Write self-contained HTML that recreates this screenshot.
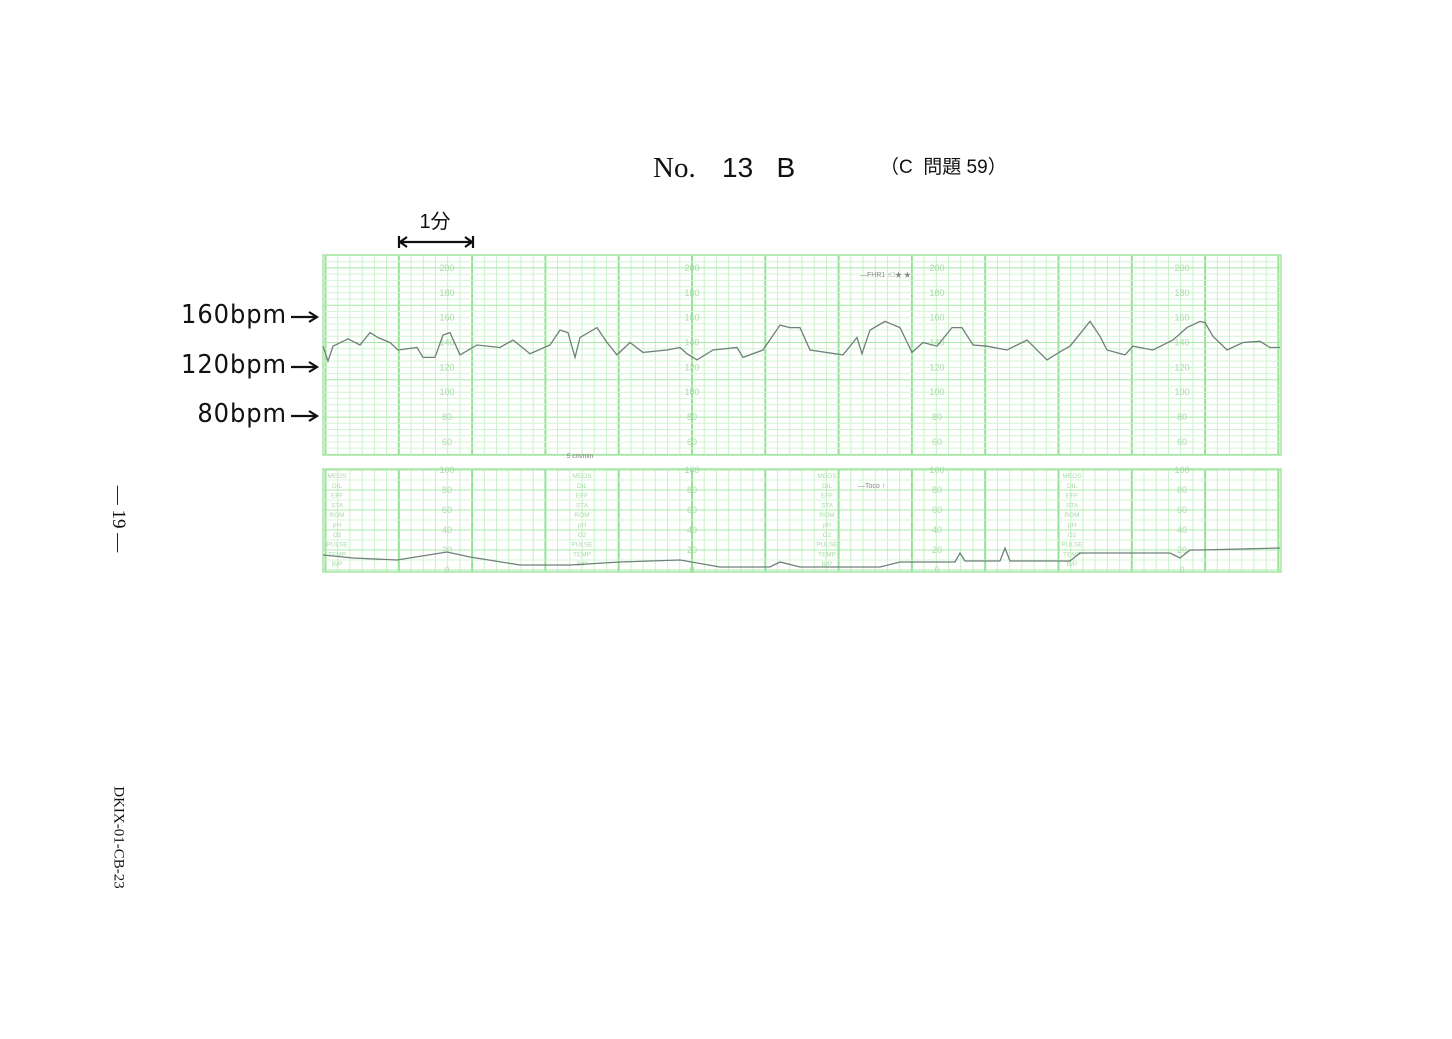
<!DOCTYPE html>
<html><head><meta charset="utf-8">
<style>
body{margin:0;width:1452px;height:1039px;background:#fff;overflow:hidden;position:relative;font-family:"Liberation Sans","Noto Sans CJK JP",sans-serif}
.t{position:absolute;white-space:nowrap;color:#111}
</style></head><body>
<div class="t" style="left:653px;top:152px;font-family:'Liberation Serif',serif;font-size:29px">No.</div>
<div class="t" style="left:722px;top:152px;font-size:28px">13&nbsp;&nbsp;&nbsp;B</div>
<div class="t" style="left:880px;top:152px;font-size:19px;font-family:'Liberation Sans','Noto Sans CJK JP',sans-serif">（C&nbsp;&nbsp;問題 59）</div>
<div class="t" style="left:78px;top:508px;width:80px;text-align:center;transform:rotate(90deg);font-family:'Liberation Serif',serif;font-size:19px">— 19 —</div>
<div class="t" style="left:58px;top:829px;width:120px;text-align:center;transform:rotate(90deg);font-family:'Liberation Serif',serif;font-size:15px">DKIX-01-CB-23</div>
<svg id="c" width="1452" height="1039" style="position:absolute;left:0;top:0"></svg>
<script>
const fhrX=[323,328,333,348,360,370,378,390,398,417,423,435,443,450,460,477,500,513,530,550,560,568,575,580,597,607,617,630,643,667,680,687,697,713,737,743,763,780,790,800,810,843,857,862,870,885,900,912,923,937,952,962,973,987,1007,1027,1047,1063,1070,1080,1090,1100,1107,1125,1133,1153,1173,1187,1200,1205,1213,1227,1243,1260,1270,1280];
const fhrV=[137,125,137,143,138,148,144,140,134,136,128,128,146,148,130,138,136,142,131,138,150,148,128,144,152,140,130,140,132,134,136,131,126,134,136,128,134,154,152,152,134,130,144,131,150,157,152,132,140,137,152,152,138,137,134,142,126,134,137,147,157,145,134,130,137,134,142,152,157,156,145,134,140,141,136,136];
const tocoX=[323,353,397,447,470,520,570,620,680,720,770,780,800,840,880,900,955,960,965,1000,1005,1010,1070,1080,1170,1180,1190,1200,1280];
const tocoV=[15,12,10,18,13,5,5,8,10,3,3,8,3,3,3,8,8,17,9,9,22,9,9,17,17,12,20,20,22];
const fhrTicks=[200,180,160,140,120,100,80,60];
const tocoTicks=[100,80,60,40,20,0];
const sideLabels=["MEOS","DIL","EFF","STA","ROM","pH","O2","PULSE","TEMP","B/P"];
const NS="http://www.w3.org/2000/svg";
const svg=document.getElementById('c');
function mk(t,a,p){const e=document.createElementNS(NS,t);for(const k in a)e.setAttribute(k,a[k]);(p||svg).appendChild(e);return e;}
const X0=325.5,MIN=73.3,L=323,R=1281;
const yF=v=>342.5-(v-140)*1.243;
const yT=v=>570-v;
function grid(top,bot,hvals,yfn,majorEvery){
  for(let i=0;;i++){const x=X0+i*MIN/6;if(x>R)break;
    const maj=i%6===0;
    const l=mk('line',{x1:x,x2:x,y1:top,y2:bot,stroke:maj?'#95e295':'#c9f1c9','stroke-width':maj?2:1});
    }
  hvals.forEach((v,i)=>{const y=yfn(v);const l=mk('line',{x1:L,x2:R,y1:y,y2:y,stroke:(i%majorEvery===0)?'#a8e8a8':'#d3f4d3','stroke-width':1});
    });
  const b=mk('rect',{x:L,y:top,width:R-L,height:bot-top,fill:'none',stroke:'#a5e6a5','stroke-width':1.5});
  
}
const hF=[];for(let v=50;v<=210;v+=5)hF.push(v);
grid(255,455,hF,yF,6);
const hT=[];for(let v=0;v<=100;v+=10)hT.push(v);
grid(469,572,hT,yT,2);
for(let k=0;k<4;k++){const cx=447+k*245;
  fhrTicks.forEach(v=>{const t=mk('text',{x:cx,y:yF(v)+3,'font-size':9,fill:'#a8dca8','text-anchor':'middle','font-family':'Liberation Sans'});t.textContent=v;
    });
  tocoTicks.forEach(v=>{const t=mk('text',{x:cx,y:yT(v)+3,'font-size':9,fill:'#a8dca8','text-anchor':'middle','font-family':'Liberation Sans'});t.textContent=v;
    });
  const sx=337+k*245;
  sideLabels.forEach((s,i)=>{const t=mk('text',{x:sx,y:478+i*9.8,'font-size':6.5,fill:'#a8dca8','text-anchor':'middle','font-family':'Liberation Sans'});t.textContent=s;
    });
}
let t=mk('text',{x:580,y:458,'font-size':6.5,fill:'#777','text-anchor':'middle'});t.textContent='5 cm/min';
t=mk('text',{x:860,y:277,'font-size':7,fill:'#888'});t.textContent='—FHR1 ↑□★   ★';
t=mk('text',{x:858,y:488,'font-size':7,fill:'#888'});t.textContent='—Toco ↑';
let p=mk('polyline',{points:fhrX.map((x,i)=>x+','+yF(fhrV[i]).toFixed(1)).join(' '),fill:'none',stroke:'#6f7f7a','stroke-width':1.3});

p=mk('polyline',{points:tocoX.map((x,i)=>x+','+yT(tocoV[i]).toFixed(1)).join(' '),fill:'none',stroke:'#6f7f7a','stroke-width':1.3});

const bl=[[160,'160bpm',314],[120,'120bpm',364],[80,'80bpm',413]];
bl.forEach(([v,s,y])=>{const tt=mk('text',{x:287,y:y+9,'font-size':26,'letter-spacing':1,fill:'#111','text-anchor':'end','font-family':'DejaVu Sans','transform':`translate(287 0) scale(0.93 1) translate(-287 0)`});tt.textContent=s;
  
  const a=mk('path',{d:`M291 ${y+3} H316 M309 ${y-2} L317 ${y+3} L309 ${y+8}`,stroke:'#111','stroke-width':2.2,fill:'none'});
  });
t=mk('text',{x:435,y:228,'font-size':20,fill:'#111','text-anchor':'middle','font-family':'Liberation Sans, Noto Sans CJK JP'});t.textContent='1分';
const a=mk('path',{d:'M399 236 V248 M473 236 V248 M400 242 H472 M407 237 L400 242 L407 247 M465 237 L472 242 L465 247',stroke:'#111','stroke-width':2.2,fill:'none'});

</script>
</body></html>
